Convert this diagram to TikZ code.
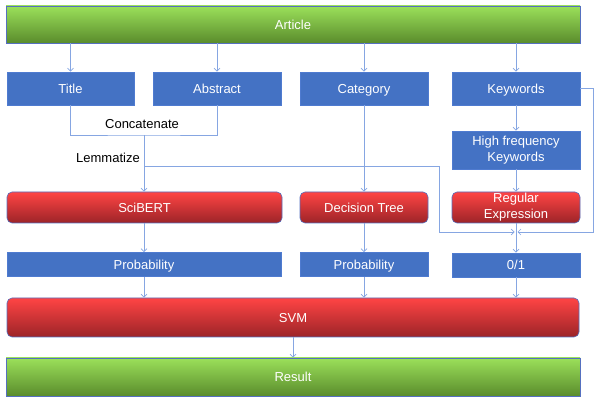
\documentclass[tikz,border=0pt]{standalone}
\usepackage{fontspec}
\setmainfont{Liberation Sans}
\usetikzlibrary{arrows.meta}
\definecolor{bluebox}{HTML}{4472C4}
\definecolor{blueedge}{HTML}{4F7BD0}
\definecolor{outl}{HTML}{5570C0}
\definecolor{redtop}{HTML}{FF4444}
\definecolor{redbot}{HTML}{9C2428}
\definecolor{greentop}{HTML}{9BE05A}
\definecolor{greenbot}{HTML}{5A8C2C}
\definecolor{linec}{HTML}{86A6E2}
\tikzset{
  box/.style={inner sep=0pt, font=\fontsize{13}{16}\selectfont, text=white, text height=9.3pt, text depth=0pt},
  multi/.style={align=center, text height=, text depth=},
  bluebx/.style={box, fill=bluebox, draw=blueedge, line width=0.6pt},
  redbx/.style={box, draw=outl, line width=0.6pt, rounded corners=5pt, top color=redtop, bottom color=redbot},
  greenbx/.style={box, draw=outl, line width=0.6pt, top color=greentop, bottom color=greenbot},
  lbl/.style={inner sep=0pt, font=\fontsize{13}{15}\selectfont, text=black, text height=9.3pt, text depth=0pt},
  conn/.style={draw=linec, line width=0.7pt},
  arr/.style={conn, -{Straight Barb[length=3pt,width=6pt]}},
}
\begin{document}
\begin{tikzpicture}[x=1pt,y=-1pt]
\useasboundingbox (0,0) rectangle (600,403);
% top / bottom
\node[greenbx, minimum width=574pt, minimum height=37pt] (article) at (293,24.5) {Article};
\node[greenbx, minimum width=574pt, minimum height=38pt] (result) at (293,377) {Result};
% row 1
\node[bluebx, minimum width=127pt, minimum height=33pt] (title) at (70.5,88.5) {Title};
\node[bluebx, minimum width=128pt, minimum height=33pt] (abstract) at (217,88.5) {Abstract};
\node[bluebx, minimum width=128pt, minimum height=33pt] (category) at (364,88.5) {Category};
\node[bluebx, minimum width=128pt, minimum height=33pt] (keywords) at (516,88.5) {Keywords};
% high freq
\node[bluebx, multi, minimum width=128pt, minimum height=38pt] (hf) at (516,150) {High frequency\\Keywords};
% row of models
\node[redbx, minimum width=275pt, minimum height=31pt] (scibert) at (144.5,207.5) {SciBERT};
\node[redbx, minimum width=128pt, minimum height=31pt] (dtree) at (364,207.5) {Decision Tree};
\node[redbx, multi, minimum width=128pt, minimum height=31pt] (regex) at (516,207.5) {Regular\\Expression};
% outputs
\node[bluebx, minimum width=274pt, minimum height=24pt] (prob1) at (144,264.5) {Probability};
\node[bluebx, minimum width=128pt, minimum height=24pt] (prob2) at (364,264.5) {Probability};
\node[bluebx, minimum width=128pt, minimum height=24pt] (zero) at (516,265) {0/1};
% svm
\node[redbx, minimum width=572pt, minimum height=39pt] (svm) at (293,317.5) {SVM};
% labels
\node[lbl] (concat) at (142,124) {Concatenate};
\node[lbl] (lemma) at (108,158) {Lemmatize};
% coordinates
\coordinate (cj) at (144,135);
\coordinate (lj) at (144,166);
\coordinate (lc) at (439,232);
\coordinate (j) at (516,232);
\coordinate (kr) at (593,232);
% connectors from article
\draw[arr] (article.south -| title) -- (title.north);
\draw[arr] (article.south -| abstract) -- (abstract.north);
\draw[arr] (article.south -| category) -- (category.north);
\draw[arr] (article.south -| keywords) -- (keywords.north);
% concatenate
\draw[conn] (title.south) |- (cj) -| (abstract.south);
\draw[arr] (cj) -- (scibert.north -| cj);
% lemmatize branch
\draw[arr, shorten >=1.5pt] (lj) -| (lc) -- (j);
% keywords branch
\draw[arr] (keywords.south) -- (hf.north);
\draw[arr] (hf.south) -- (regex.north);
\draw[arr, shorten >=1.5pt] (keywords.east) -| (kr) -- (j);
\draw[arr] (regex.south) -- (zero.north);
% category
\draw[arr] (category.south) -- (dtree.north);
% models to outputs
\draw[arr] (scibert.south -| prob1) -- (prob1.north);
\draw[arr] (dtree.south) -- (prob2.north);
% outputs to svm
\draw[arr] (prob1.south) -- (svm.north -| prob1);
\draw[arr] (prob2.south) -- (svm.north -| prob2);
\draw[arr] (zero.south) -- (svm.north -| zero);
% svm to result
\draw[arr] (svm.south) -- (result.north);
\end{tikzpicture}
\end{document}
